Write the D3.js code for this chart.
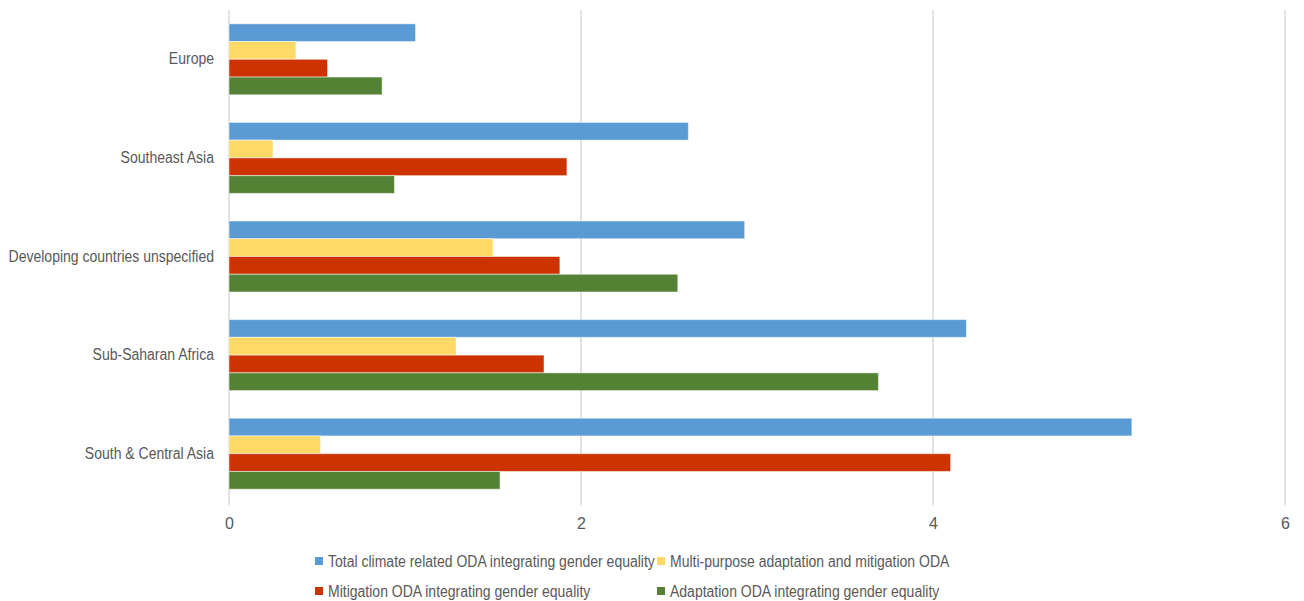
<!DOCTYPE html>
<html>
<head>
<meta charset="utf-8">
<script src="https://cdn.jsdelivr.net/npm/d3@7"></script>
<style>
  body { margin: 0; background: #fff; }
  svg text { font-family: "Liberation Sans", Arial, sans-serif; fill: #595959; }
</style>
</head>
<body>
<svg id="chart" width="1304" height="601"></svg>
<script>
// Regions, top to bottom
const regions = ["Europe", "Southeast Asia", "Developing countries unspecified", "Sub-Saharan Africa", "South & Central Asia"];

// Series names, in bar order within each region
const seriesNames = [
  "Total climate related ODA integrating gender equality",
  "Multi-purpose adaptation and mitigation ODA",
  "Mitigation ODA integrating gender equality",
  "Adaptation ODA integrating gender equality"
];
const seriesColors = ["#5B9BD5", "#FFD966", "#CC3300", "#548235"];

// Values per series, aligned with regions
const totalODA      = [1.06, 2.61, 2.93, 4.19, 5.13];
const multiPurpose  = [0.38, 0.25, 1.50, 1.29, 0.52];
const mitigationODA = [0.56, 1.92, 1.88, 1.79, 4.10];
const adaptationODA = [0.87, 0.94, 2.55, 3.69, 1.54];

const xTicks = [0, 2, 4, 6];

const seriesValues = [totalODA, multiPurpose, mitigationODA, adaptationODA];

const svg = d3.select("#chart");
const margin = { left: 229, right: 19, top: 10, bottom: 98 };
const W = 1304, H = 601;

// Condensed look: squeeze each label horizontally
const squeeze = 0.875;
function condense(sel) {
  sel.each(function () {
    const w = this.getComputedTextLength();
    d3.select(this).attr("textLength", w * squeeze).attr("lengthAdjust", "spacingAndGlyphs");
  });
}

const x = d3.scaleLinear().domain([0, 6]).range([margin.left, W - margin.right]);
const y = d3.scaleBand().domain(regions).range([margin.top, H - margin.bottom]).paddingInner(0.28).paddingOuter(0.14);
const ySub = d3.scaleBand().domain(d3.range(seriesNames.length)).range([0, y.bandwidth()]);

// Vertical gridlines
svg.append("g")
  .selectAll("line")
  .data(xTicks)
  .join("line")
  .attr("x1", d => x(d)).attr("x2", d => x(d))
  .attr("y1", margin.top).attr("y2", H - margin.bottom + 2)
  .attr("stroke", "#d9d9d9").attr("stroke-width", 1.5);

// Bars
const groups = svg.append("g")
  .selectAll("g")
  .data(regions)
  .join("g")
  .attr("transform", d => `translate(0,${y(d)})`);

groups.selectAll("rect")
  .data((d, i) => seriesValues.map((vals, s) => ({ s, v: vals[i] })))
  .join("rect")
  .attr("x", x(0))
  .attr("y", d => ySub(d.s))
  .attr("width", d => x(d.v) - x(0))
  .attr("height", ySub.bandwidth())
  .attr("fill", d => seriesColors[d.s])
  .attr("stroke", "rgba(255,255,255,0.5)")
  .attr("stroke-width", 1);

// X axis labels
const xAxis = d3.axisBottom(x).tickValues(xTicks).tickFormat(d3.format("d")).tickSize(0).tickPadding(0);
const gx = svg.append("g")
  .attr("transform", `translate(0,${H - margin.bottom + 21})`)
  .call(xAxis);
gx.select(".domain").remove();
gx.selectAll("text").attr("font-size", 16).attr("font-family", null).attr("dy", "0.32em").style("fill", "#595959");

// Y axis labels
const yAxis = d3.axisLeft(y).tickSize(0).tickPadding(15);
const gy = svg.append("g")
  .attr("transform", `translate(${margin.left},0)`)
  .call(yAxis);
gy.select(".domain").remove();
gy.selectAll("text").attr("font-size", 16).attr("font-family", null).style("fill", "#595959").call(condense);

// Legend, two columns by two rows
const legendCols = [315, 657];
const legendRows = [561, 591];
const legend = svg.append("g")
  .selectAll("g")
  .data(seriesNames)
  .join("g")
  .attr("transform", (d, i) => `translate(${legendCols[i % 2]},${legendRows[Math.floor(i / 2)]})`);
legend.append("rect")
  .attr("x", 0).attr("y", -4).attr("width", 8).attr("height", 8)
  .attr("fill", (d, i) => seriesColors[i]);
legend.append("text")
  .attr("x", 13).attr("y", 0).attr("dy", "0.35em")
  .attr("font-size", 16)
  .text(d => d)
  .call(condense);
</script>
</body>
</html>
